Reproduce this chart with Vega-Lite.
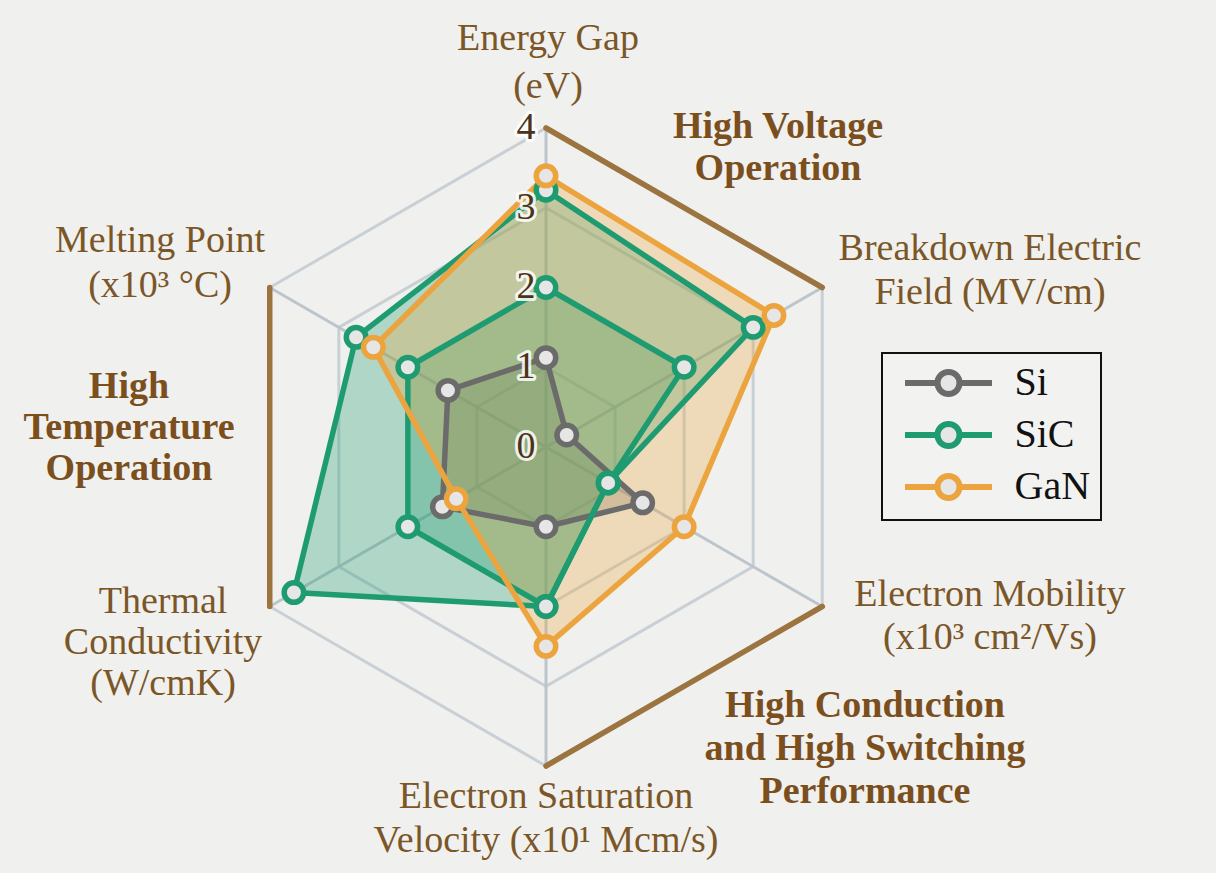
{
  "$schema": "https://vega.github.io/schema/vega-lite/v6.json",
  "width": 1216,
  "height": 873,
  "autosize": {"type": "none"},
  "padding": 0,
  "background": "#f0f0ee",
  "config": {"view": {"stroke": null}},
  "datasets": {
    "axes": [
      {"axis": "Energy Gap", "k": 0},
      {"axis": "Breakdown Electric Field", "k": 1},
      {"axis": "Electron Mobility", "k": 2},
      {"axis": "Electron Saturation Velocity", "k": 3},
      {"axis": "Thermal Conductivity", "k": 4},
      {"axis": "Melting Point", "k": 5}
    ],
    "grid": [
      {"ring": 1, "k": 0}, {"ring": 1, "k": 1}, {"ring": 1, "k": 2}, {"ring": 1, "k": 3}, {"ring": 1, "k": 4}, {"ring": 1, "k": 5},
      {"ring": 2, "k": 0}, {"ring": 2, "k": 1}, {"ring": 2, "k": 2}, {"ring": 2, "k": 3}, {"ring": 2, "k": 4}, {"ring": 2, "k": 5},
      {"ring": 3, "k": 0}, {"ring": 3, "k": 1}, {"ring": 3, "k": 2}, {"ring": 3, "k": 3}, {"ring": 3, "k": 4}, {"ring": 3, "k": 5},
      {"ring": 4, "k": 0}, {"ring": 4, "k": 1}, {"ring": 4, "k": 2}, {"ring": 4, "k": 3}, {"ring": 4, "k": 4}, {"ring": 4, "k": 5}
    ],
    "zones": [
      {"zone": "High Voltage Operation", "start": 0, "end": 1, "level": 4},
      {"zone": "High Conduction and High Switching Performance", "start": 2, "end": 3, "level": 4},
      {"zone": "High Temperature Operation", "start": 4, "end": 5, "level": 4}
    ],
    "ticks": [{"v": 0}, {"v": 1}, {"v": 2}, {"v": 3}, {"v": 4}],
    "materials": [
      {"trace": "Si", "material": "Si", "axis": "Energy Gap", "value": 1.12},
      {"trace": "Si", "material": "Si", "axis": "Breakdown Electric Field", "value": 0.3},
      {"trace": "Si", "material": "Si", "axis": "Electron Mobility", "value": 1.4},
      {"trace": "Si", "material": "Si", "axis": "Electron Saturation Velocity", "value": 1.0},
      {"trace": "Si", "material": "Si", "axis": "Thermal Conductivity", "value": 1.5},
      {"trace": "Si", "material": "Si", "axis": "Melting Point", "value": 1.42},
      {"trace": "SiC outer", "material": "SiC", "axis": "Energy Gap", "value": 3.22},
      {"trace": "SiC outer", "material": "SiC", "axis": "Breakdown Electric Field", "value": 3.0},
      {"trace": "SiC outer", "material": "SiC", "axis": "Electron Mobility", "value": 0.9},
      {"trace": "SiC outer", "material": "SiC", "axis": "Electron Saturation Velocity", "value": 2.0},
      {"trace": "SiC outer", "material": "SiC", "axis": "Thermal Conductivity", "value": 3.65},
      {"trace": "SiC outer", "material": "SiC", "axis": "Melting Point", "value": 2.75},
      {"trace": "SiC inner", "material": "SiC", "axis": "Energy Gap", "value": 2.0},
      {"trace": "SiC inner", "material": "SiC", "axis": "Breakdown Electric Field", "value": 2.0},
      {"trace": "SiC inner", "material": "SiC", "axis": "Electron Mobility", "value": 0.9},
      {"trace": "SiC inner", "material": "SiC", "axis": "Electron Saturation Velocity", "value": 2.0},
      {"trace": "SiC inner", "material": "SiC", "axis": "Thermal Conductivity", "value": 2.0},
      {"trace": "SiC inner", "material": "SiC", "axis": "Melting Point", "value": 2.0},
      {"trace": "GaN", "material": "GaN", "axis": "Energy Gap", "value": 3.4},
      {"trace": "GaN", "material": "GaN", "axis": "Breakdown Electric Field", "value": 3.3},
      {"trace": "GaN", "material": "GaN", "axis": "Electron Mobility", "value": 2.0},
      {"trace": "GaN", "material": "GaN", "axis": "Electron Saturation Velocity", "value": 2.5},
      {"trace": "GaN", "material": "GaN", "axis": "Thermal Conductivity", "value": 1.3},
      {"trace": "GaN", "material": "GaN", "axis": "Melting Point", "value": 2.5}
    ]
  },
  "layer": [
    {
      "description": "Concentric hexagonal grid rings at 1, 2, 3 and 4",
      "data": {"name": "grid"},
      "transform": [
        {"calculate": "datum.ring * sin(datum.k * PI / 3)", "as": "px"},
        {"calculate": "datum.ring * cos(datum.k * PI / 3)", "as": "py"}
      ],
      "mark": {"type": "line", "interpolate": "linear-closed", "stroke": "#c8d0d5", "strokeWidth": 3},
      "encoding": {
        "x": {"field": "px", "type": "quantitative", "scale": {"domain": [-6.8464, 8.4013], "nice": false, "zero": false}, "axis": null},
        "y": {"field": "py", "type": "quantitative", "scale": {"domain": [-5.3417, 5.605], "nice": false, "zero": false}, "axis": null},
        "detail": {"field": "ring", "type": "nominal"},
        "order": {"field": "k", "type": "quantitative"}
      }
    },
    {
      "description": "Spokes from the centre to each axis end",
      "data": {"name": "axes"},
      "transform": [
        {"calculate": "4 * sin(datum.k * PI / 3)", "as": "px"},
        {"calculate": "4 * cos(datum.k * PI / 3)", "as": "py"}
      ],
      "mark": {"type": "rule", "stroke": "#bcc5cb", "strokeWidth": 3},
      "encoding": {
        "x": {"field": "px", "type": "quantitative"},
        "y": {"field": "py", "type": "quantitative"},
        "x2": {"datum": 0},
        "y2": {"datum": 0}
      }
    },
    {
      "description": "Highlighted outer edges for the three application zones",
      "data": {"name": "zones"},
      "transform": [
        {"calculate": "datum.level * sin(datum.start * PI / 3)", "as": "sx"},
        {"calculate": "datum.level * cos(datum.start * PI / 3)", "as": "sy"},
        {"calculate": "datum.level * sin(datum.end * PI / 3)", "as": "ex"},
        {"calculate": "datum.level * cos(datum.end * PI / 3)", "as": "ey"}
      ],
      "mark": {"type": "rule", "stroke": "#9b7440", "strokeWidth": 5.5, "strokeCap": "round"},
      "encoding": {
        "x": {"field": "sx", "type": "quantitative"},
        "y": {"field": "sy", "type": "quantitative"},
        "x2": {"field": "ex"},
        "y2": {"field": "ey"}
      }
    },
    {
      "description": "Material polygon fills (tint scale listed in reverse so it keeps its own, hidden legend)",
      "data": {"name": "materials"},
      "transform": [
        {"lookup": "axis", "from": {"data": {"name": "axes"}, "key": "axis", "fields": ["k"]}},
        {"calculate": "datum.value * sin(datum.k * PI / 3)", "as": "px"},
        {"calculate": "datum.value * cos(datum.k * PI / 3)", "as": "py"}
      ],
      "mark": {"type": "line", "interpolate": "linear-closed", "strokeWidth": 0, "strokeOpacity": 0, "fillOpacity": 0.3},
      "encoding": {
        "x": {"field": "px", "type": "quantitative"},
        "y": {"field": "py", "type": "quantitative"},
        "detail": {"field": "trace", "type": "nominal"},
        "order": {"field": "k", "type": "quantitative"},
        "fill": {"field": "material", "type": "nominal", "scale": {"domain": ["GaN", "SiC", "Si"], "range": ["#eba43e", "#1f9b72", "#6b6b6b"]}, "legend": null}
      }
    },
    {
      "description": "Material polygon outlines",
      "data": {"name": "materials"},
      "transform": [
        {"lookup": "axis", "from": {"data": {"name": "axes"}, "key": "axis", "fields": ["k"]}},
        {"calculate": "datum.value * sin(datum.k * PI / 3)", "as": "px"},
        {"calculate": "datum.value * cos(datum.k * PI / 3)", "as": "py"}
      ],
      "mark": {"type": "line", "interpolate": "linear-closed", "strokeWidth": 5.5, "strokeJoin": "round"},
      "encoding": {
        "x": {"field": "px", "type": "quantitative"},
        "y": {"field": "py", "type": "quantitative"},
        "detail": {"field": "trace", "type": "nominal"},
        "order": {"field": "k", "type": "quantitative"},
        "stroke": {
          "field": "material", "type": "nominal",
          "scale": {"domain": ["Si", "SiC", "GaN"], "range": ["#6b6b6b", "#1f9b72", "#eba43e"]},
          "legend": {
            "orient": "none", "legendX": 882, "legendY": 353, "title": null,
            "symbolType": "M-3.48,0H-0.88M0.88,0H3.48M-0.88,0A0.88,0.88,0,1,1,0.88,0A0.88,0.88,0,1,1,-0.88,0Z",
            "symbolSize": 625, "symbolStrokeWidth": 6, "symbolFillColor": "#e6e6e6", "symbolOpacity": 1,
            "symbolOffset": 36.5, "labelOffset": 46,
            "labelFont": "Liberation Serif", "labelFontSize": 40, "labelColor": "#111111",
            "labelExpr": "datum.label + '\u00a0'",
            "padding": 10, "rowPadding": 6,
            "strokeColor": "#111111", "fillColor": "#f2f2f0",
            "encode": {
              "symbols": {"update": {"fill": {"value": "#e6e6e6"}, "strokeWidth": {"value": 6}, "opacity": {"value": 1}}},
              "legend": {"update": {"strokeWidth": {"value": 2}}}
            }
          }
        }
      }
    },
    {
      "description": "Vertex markers",
      "data": {"name": "materials"},
      "transform": [
        {"lookup": "axis", "from": {"data": {"name": "axes"}, "key": "axis", "fields": ["k"]}},
        {"calculate": "datum.value * sin(datum.k * PI / 3)", "as": "px"},
        {"calculate": "datum.value * cos(datum.k * PI / 3)", "as": "py"}
      ],
      "mark": {"type": "point", "filled": true, "fill": "#e6e6e6", "size": 380, "strokeWidth": 5.5, "opacity": 1},
      "encoding": {
        "x": {"field": "px", "type": "quantitative"},
        "y": {"field": "py", "type": "quantitative"},
        "stroke": {
          "field": "material", "type": "nominal",
          "scale": {"domain": ["Si", "SiC", "GaN"], "range": ["#6b6b6b", "#1f9b72", "#eba43e"]}
        }
      }
    },
    {
      "description": "Scale values along the Energy Gap axis: halo",
      "data": {"name": "ticks"},
      "mark": {"type": "text", "font": "Liberation Serif", "fontSize": 38, "baseline": "middle", "align": "center", "stroke": "#ffffff", "strokeWidth": 6, "strokeOpacity": 0.85, "fill": "#ffffff", "strokeJoin": "round"},
      "encoding": {
        "x": {"datum": -0.25, "type": "quantitative"},
        "y": {"field": "v", "type": "quantitative"},
        "text": {"field": "v", "type": "quantitative"}
      }
    },
    {
      "description": "Scale values along the Energy Gap axis",
      "data": {"name": "ticks"},
      "mark": {"type": "text", "font": "Liberation Serif", "fontSize": 38, "baseline": "middle", "align": "center", "fill": "#4a3319"},
      "encoding": {
        "x": {"datum": -0.25, "type": "quantitative"},
        "y": {"field": "v", "type": "quantitative"},
        "text": {"field": "v", "type": "quantitative"}
      }
    },
    {
      "data": {"values": [{}]},
      "mark": {"type": "text", "text": ["Energy Gap", "(eV)"], "font": "Liberation Serif", "fontSize": 38, "lineHeight": 48, "baseline": "alphabetic", "align": "center", "fill": "#7b5627"},
      "encoding": {"x": {"datum": 0.025, "type": "quantitative"}, "y": {"datum": 4.978, "type": "quantitative"}}
    },
    {
      "data": {"values": [{}]},
      "mark": {"type": "text", "text": ["Breakdown Electric", "Field (MV/cm)"], "font": "Liberation Serif", "fontSize": 38, "lineHeight": 44, "baseline": "alphabetic", "align": "center", "fill": "#7b5627"},
      "encoding": {"x": {"datum": 5.567, "type": "quantitative"}, "y": {"datum": 2.345, "type": "quantitative"}}
    },
    {
      "data": {"values": [{}]},
      "mark": {"type": "text", "text": ["Electron Mobility", "(x10³ cm²/Vs)"], "font": "Liberation Serif", "fontSize": 38, "lineHeight": 43, "baseline": "alphabetic", "align": "center", "fill": "#7b5627"},
      "encoding": {"x": {"datum": 5.567, "type": "quantitative"}, "y": {"datum": -1.994, "type": "quantitative"}}
    },
    {
      "data": {"values": [{}]},
      "mark": {"type": "text", "text": ["Electron Saturation", "Velocity (x10¹ Mcm/s)"], "font": "Liberation Serif", "fontSize": 38, "lineHeight": 44, "baseline": "alphabetic", "align": "center", "fill": "#7b5627"},
      "encoding": {"x": {"datum": 0, "type": "quantitative"}, "y": {"datum": -4.527, "type": "quantitative"}}
    },
    {
      "data": {"values": [{}]},
      "mark": {"type": "text", "text": ["Thermal", "Conductivity", "(W/cmK)"], "font": "Liberation Serif", "fontSize": 38, "lineHeight": 41, "baseline": "alphabetic", "align": "center", "fill": "#7b5627"},
      "encoding": {"x": {"datum": -4.802, "type": "quantitative"}, "y": {"datum": -2.082, "type": "quantitative"}}
    },
    {
      "data": {"values": [{}]},
      "mark": {"type": "text", "text": ["Melting Point", "(x10³ °C)"], "font": "Liberation Serif", "fontSize": 38, "lineHeight": 45, "baseline": "alphabetic", "align": "center", "fill": "#7b5627"},
      "encoding": {"x": {"datum": -4.84, "type": "quantitative"}, "y": {"datum": 2.445, "type": "quantitative"}}
    },
    {
      "data": {"values": [{}]},
      "mark": {"type": "text", "text": ["High Voltage", "Operation"], "font": "Liberation Serif", "fontWeight": "bold", "fontSize": 38, "lineHeight": 42, "baseline": "alphabetic", "align": "center", "fill": "#7a4f1d"},
      "encoding": {"x": {"datum": 2.909, "type": "quantitative"}, "y": {"datum": 3.875, "type": "quantitative"}}
    },
    {
      "data": {"values": [{}]},
      "mark": {"type": "text", "text": ["High Conduction", "and High Switching", "Performance"], "font": "Liberation Serif", "fontWeight": "bold", "fontSize": 38, "lineHeight": 43, "baseline": "alphabetic", "align": "center", "fill": "#7a4f1d"},
      "encoding": {"x": {"datum": 4.0, "type": "quantitative"}, "y": {"datum": -3.386, "type": "quantitative"}}
    },
    {
      "data": {"values": [{}]},
      "mark": {"type": "text", "text": ["High", "Temperature", "Operation"], "font": "Liberation Serif", "fontWeight": "bold", "fontSize": 38, "lineHeight": 41, "baseline": "alphabetic", "align": "center", "fill": "#7a4f1d"},
      "encoding": {"x": {"datum": -5.229, "type": "quantitative"}, "y": {"datum": 0.614, "type": "quantitative"}}
    }
  ]
}
